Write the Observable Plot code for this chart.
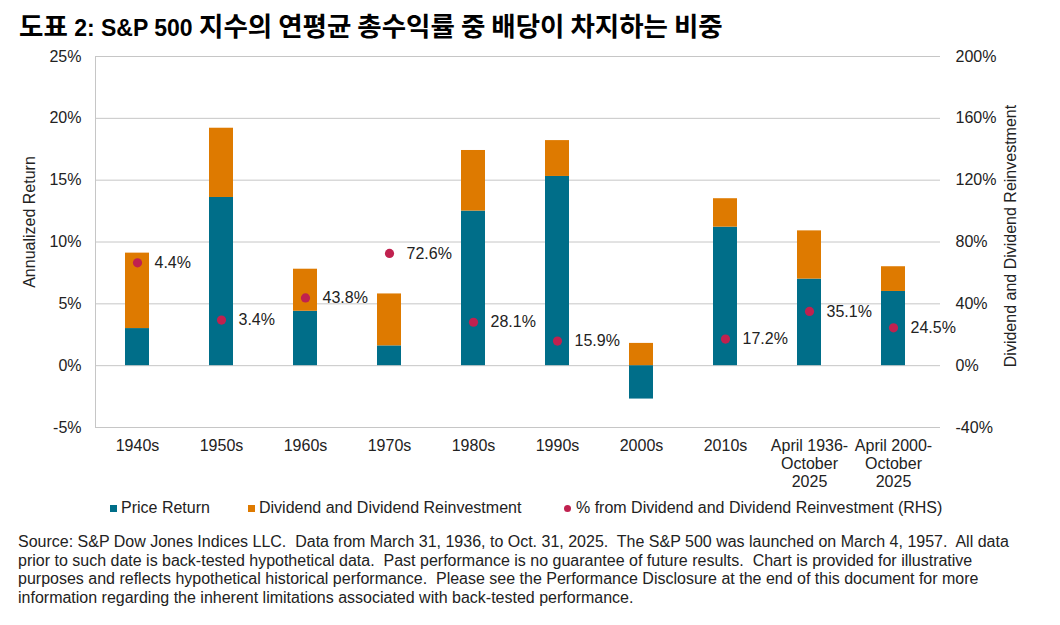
<!DOCTYPE html>
<html>
<head>
<meta charset="utf-8">
<script src="https://cdn.jsdelivr.net/npm/d3@7"></script>
<script src="https://cdn.jsdelivr.net/npm/@observablehq/plot@0.6"></script>
<style>
  body { margin: 0; background: #fff; font-family: "Liberation Sans", Arial, "Noto Sans CJK KR", sans-serif; color: #111; }
  #wrap { position: relative; width: 1060px; height: 625px; overflow: hidden; }
  #title { position: absolute; left: 19px; top: 10px; line-height: 30px; font-size: 23px; font-weight: bold; font-family: "Liberation Sans", Arial, "Noto Sans CJK KR", sans-serif; white-space: nowrap; color: #000; }
  #title .k { font-size: 26.5px; font-family: "Noto Sans CJK KR", sans-serif; font-weight: bold; }
  #chart { position: absolute; left: 0; top: 45px; }
  .ylab { position: absolute; font-size: 16px; white-space: nowrap; transform: translate(-50%, -50%) rotate(-90deg); color: #222; }
  .leg { position: absolute; top: 499px; font-size: 16px; white-space: nowrap; color: #222; }
  .sq { position: absolute; width: 7px; height: 7px; top: 505px; }
  .dt { position: absolute; width: 7px; height: 7px; border-radius: 50%; top: 505px; }
  #note { position: absolute; left: 18px; top: 533px; font-size: 16px; line-height: 18.6px; white-space: pre; color: #222; }
</style>
</head>
<body>
<div id="wrap">
  <div id="title"><span class="k">도표</span> 2: S&amp;P 500 <span class="k">지수의 연평균 총수익률 중 배당이 차지하는 비중</span></div>
  <div id="chart"></div>
  <div class="ylab" style="left:30px; top:222px;">Annualized Return</div>
  <div class="ylab" style="left:1011px; top:236px;">Dividend and Dividend Reinvestment</div>
  <div class="sq" style="left:110px; background:#006E89;"></div>
  <div class="leg" style="left:121px;">Price Return</div>
  <div class="sq" style="left:248px; background:#DE7A00;"></div>
  <div class="leg" style="left:259px;">Dividend and Dividend Reinvestment</div>
  <div class="dt" style="left:564px; background:#C0214F;"></div>
  <div class="leg" style="left:576px;">% from Dividend and Dividend Reinvestment (RHS)</div>
  <div id="note"></div>
</div>
<script>
const categories = ["1940s", "1950s", "1960s", "1970s", "1980s", "1990s", "2000s", "2010s", "April 1936-\nOctober\n2025", "April 2000-\nOctober\n2025"];
const priceReturn = [3.0, 13.6, 4.4, 1.6, 12.5, 15.3, -2.7, 11.2, 7.0, 6.0];
const dividendReturn = [6.1, 5.6, 3.4, 4.2, 4.9, 2.9, 1.8, 2.3, 3.9, 2.0];
const dividendShare = [66.5, 29.5, 43.8, 72.6, 28.1, 15.9, null, 17.2, 35.1, 24.5];
const shareLabels = ["4.4%", "3.4%", "43.8%", "72.6%", "28.1%", "15.9%", "", "17.2%", "35.1%", "24.5%"];
const leftTicks = [-5, 0, 5, 10, 15, 20, 25];
const rightTicks = [-40, 0, 40, 80, 120, 160, 200];
const seriesNames = ["Price Return", "Dividend and Dividend Reinvestment"];
const seriesColors = ["#006E89", "#DE7A00"];
const noteLines = [
  "Source: S&P Dow Jones Indices LLC.  Data from March 31, 1936, to Oct. 31, 2025.  The S&P 500 was launched on March 4, 1957.  All data",
  "prior to such date is back-tested hypothetical data.  Past performance is no guarantee of future results.  Chart is provided for illustrative",
  "purposes and reflects hypothetical historical performance.  Please see the Performance Disclosure at the end of this document for more",
  "information regarding the inherent limitations associated with back-tested performance."
];

document.getElementById("note").textContent = noteLines.join("\n");

// Right-hand axis maps onto the left: 200% <-> 25%, -40% <-> -5%  (ratio 8)
const rhsRatio = 8;

const bars = [];
categories.forEach((c, i) => {
  bars.push({cat: c, series: seriesNames[0], value: priceReturn[i]});
  bars.push({cat: c, series: seriesNames[1], value: dividendReturn[i]});
});
const dots = categories.map((c, i) => ({cat: c, pct: dividendShare[i], label: shareLabels[i]}))
  .filter(d => d.pct != null);

const font = "Liberation Sans, Arial, sans-serif";

const chart = Plot.plot({
  width: 1060,
  height: 450,
  marginLeft: 95,
  marginRight: 120,
  marginTop: 11,
  marginBottom: 68,
  style: {fontFamily: font, fontSize: "16px", color: "#222", background: "transparent"},
  x: {domain: categories, range: [95, 936], paddingInner: 0.71, paddingOuter: 0.355, label: null},
  y: {domain: [-5, 25], label: null},
  color: {domain: seriesNames, range: seriesColors},
  marks: [
    Plot.ruleY(leftTicks, {stroke: "#c6c6c6", strokeWidth: 1}),
    Plot.frame({anchor: "left", stroke: "#c6c6c6", strokeWidth: 1}),
    Plot.barY(bars, Plot.stackY({x: "cat", y: "value", fill: "series", order: seriesNames})),
    Plot.dot(dots, {x: "cat", y: d => d.pct / rhsRatio, r: 4.6, fill: "#C0214F", stroke: "none"}),
    Plot.text(dots, {x: "cat", y: d => d.pct / rhsRatio, text: "label", dx: 17, textAnchor: "start", fontSize: 16, fill: "#222"}),
    Plot.axisY(leftTicks, {anchor: "left", tickSize: 0, tickPadding: 14, tickFormat: d => d + "%", label: null, fontSize: 16}),
    Plot.axisY(rightTicks.map(v => v / rhsRatio), {anchor: "right", tickSize: 0, tickPadding: 15, tickFormat: d => Math.round(d * rhsRatio) + "%", textAnchor: "start", label: null, fontSize: 16}),
    Plot.axisX({tickSize: 0, tickPadding: 11, label: null, fontSize: 16, lineHeight: 1.12})
  ]
});
document.getElementById("chart").appendChild(chart);
</script>
</body>
</html>
